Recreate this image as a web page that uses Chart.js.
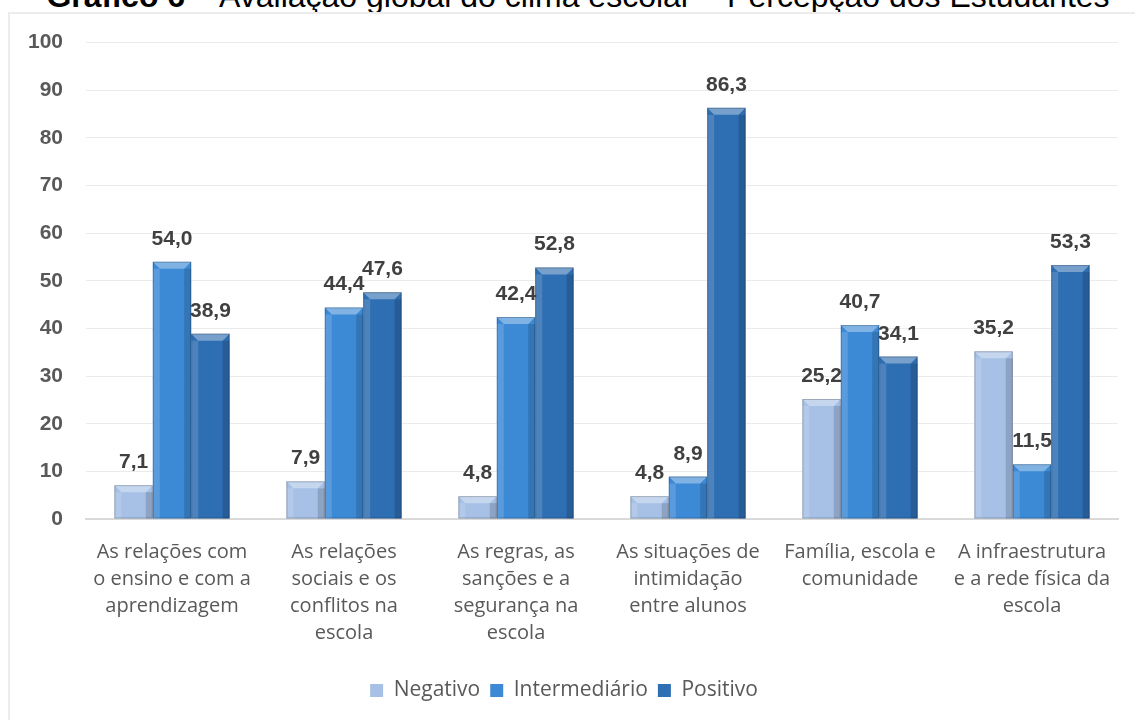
<!DOCTYPE html>
<html lang="pt">
<head>
  <meta charset="UTF-8" />
  <title>Gráfico 6 – Avaliação global do clima escolar</title>
  <script src="https://cdn.jsdelivr.net/npm/chart.js"></script>
  <style>
    body {
      margin: 0;
      background: white;
      width: 1135px;
      height: 720px;
      overflow: hidden;
      position: relative;
      font-family: "Liberation Sans", Arial, sans-serif;
    }
    .titulo {
      position: absolute;
      top: -20px;
      left: 0;
      width: 1156px;
      text-align: center;
      font-size: 32px;
      line-height: 32px;
      color: #000;
      white-space: nowrap;
    }
    .caixa {
      position: absolute;
      left: 8px;
      top: 12px;
      width: 1140px;
      height: 720px;
      border: 2px solid #ececec;
      box-sizing: border-box;
    }
    canvas {
      display: block;
      margin-top: -7px;
    }
  </style>
</head>
<body>
  <div class="titulo"><b>Gráfico 6</b> – Avaliação global do clima escolar – Percepção dos Estudantes</div>
  <div class="caixa">
    <canvas id="grafico" width="1125" height="713"></canvas>
  </div>

  <script>
    const categorias = [
      ["As relações com", "o ensino e com a", "aprendizagem"],
      ["As relações", "sociais e os", "conflitos na", "escola"],
      ["As regras, as", "sanções e a", "segurança na", "escola"],
      ["As situações de", "intimidação", "entre alunos"],
      ["Família, escola e", "comunidade"],
      ["A infraestrutura", "e a rede física da", "escola"]
    ];
    const negativo = [7.1, 7.9, 4.8, 4.8, 25.2, 35.2];
    const intermediario = [54.0, 44.4, 42.4, 8.9, 40.7, 11.5];
    const positivo = [38.9, 47.6, 52.8, 86.3, 34.1, 53.3];
    const ticksY = [0, 10, 20, 30, 40, 50, 60, 70, 80, 90, 100];

    // bisel das barras, imitando o estilo do Excel
    const bisel = {
      id: "bisel",
      afterDatasetsDraw(chart) {
        const c = chart.ctx;
        chart.data.datasets.forEach((ds, i) => {
          chart.getDatasetMeta(i).data.forEach(bar => {
            const l = bar.x - bar.width / 2, r = bar.x + bar.width / 2;
            const t = bar.y, b = bar.base;
            const e = Math.min(7, (b - t) / 2);
            c.save();
            c.fillStyle = "rgba(255,255,255,0.35)";
            c.beginPath();
            c.moveTo(l, t); c.lineTo(r, t); c.lineTo(r - e, t + e); c.lineTo(l + e, t + e);
            c.closePath(); c.fill();
            c.fillStyle = "rgba(255,255,255,0.15)";
            c.fillRect(l, t + e, e, b - t - e);
            c.fillStyle = "rgba(0,0,0,0.15)";
            c.fillRect(r - e, t + e, e, b - t - e);
            c.strokeStyle = "rgba(0,0,0,0.22)";
            c.lineWidth = 1;
            c.strokeRect(l + 0.5, t + 0.5, r - l - 1, b - t - 1);
            c.restore();
          });
        });
      }
    };

    // rótulos de valor acima das barras
    const rotulos = {
      id: "rotulos",
      afterDatasetsDraw(chart) {
        const c = chart.ctx;
        c.save();
        c.font = "bold 21px 'Liberation Sans', Arial, sans-serif";
        c.fillStyle = "#404040";
        c.textAlign = "center";
        c.textBaseline = "alphabetic";
        chart.data.datasets.forEach((ds, i) => {
          chart.getDatasetMeta(i).data.forEach((bar, j) => {
            const txt = ds.data[j].toFixed(1).replace(".", ",");
            c.fillText(txt, bar.x, bar.y - 17);
          });
        });
        c.restore();
      }
    };

    const ctx = document.getElementById("grafico").getContext("2d");
    new Chart(ctx, {
      type: "bar",
      data: {
        labels: categorias,
        datasets: [
          { label: "Negativo", data: negativo, backgroundColor: "#a6c0e6" },
          { label: "Intermediário", data: intermediario, backgroundColor: "#3c8ad6" },
          { label: "Positivo", data: positivo, backgroundColor: "#2e6eb2" }
        ]
      },
      plugins: [bisel, rotulos],
      options: {
        responsive: false,
        animation: false,
        layout: { padding: { top: 0, right: 17, bottom: 9, left: 0 } },
        datasets: {
          bar: { barPercentage: 1, categoryPercentage: 0.67 }
        },
        scales: {
          x: {
            grid: { display: false },
            border: { color: "#d9d9d9", width: 2 },
            ticks: {
              color: "#595959",
              padding: 12,
              maxRotation: 0,
              autoSkip: false,
              font: { family: "'Open Sans', sans-serif", size: 20, lineHeight: 1.35 }
            },
            afterFit(s) { s.height = 151; }
          },
          y: {
            min: 0,
            max: 100,
            afterBuildTicks(s) { s.ticks = ticksY.map(v => ({ value: v })); },
            grid: { color: "#ebebeb", drawTicks: false },
            border: { display: false },
            ticks: {
              color: "#595959",
              padding: 23,
              font: { family: "'Liberation Sans', Arial, sans-serif", size: 21, weight: "bold" }
            },
            afterFit(s) { s.width = 76; }
          }
        },
        plugins: {
          legend: {
            position: "bottom",
            labels: {
              color: "#595959",
              boxWidth: 13,
              boxHeight: 13,
              padding: 10,
              font: { family: "'Open Sans', sans-serif", size: 21 }
            }
          },
          tooltip: { enabled: false }
        }
      }
    });
  </script>
</body>
</html>
